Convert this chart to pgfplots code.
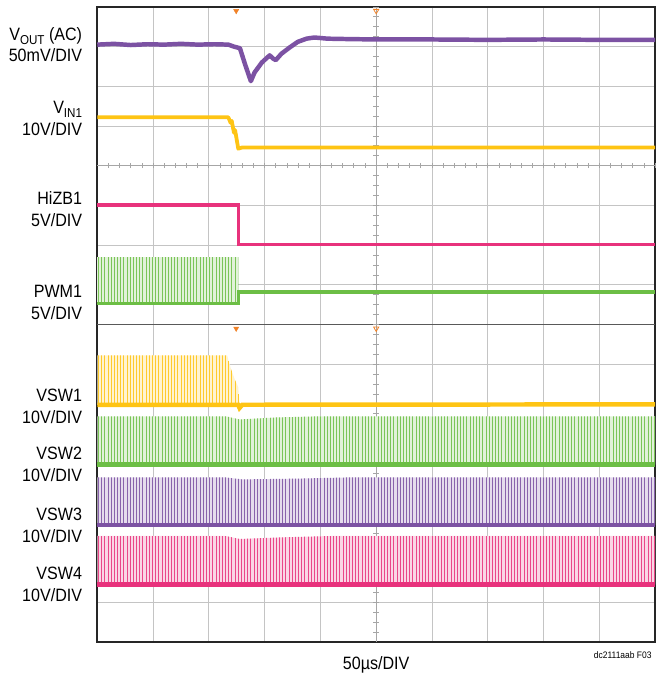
\documentclass[border=0pt]{standalone}
\usepackage{fontspec}
\setmainfont{Liberation Sans}[FakeStretch=0.9]
\usepackage{pgfplots}
\pgfplotsset{compat=1.18}
\usetikzlibrary{patterns.meta}

\definecolor{cPurple}{RGB}{124,82,163}
\definecolor{cYellow}{RGB}{254,196,20}
\definecolor{cPink}{RGB}{232,50,124}
\definecolor{cGreen}{RGB}{108,190,69}
\definecolor{cOrange}{RGB}{240,130,40}
\definecolor{cGrid}{RGB}{196,196,196}

\newcommand{\lbl}{\fontsize{18}{22}\selectfont}
\newcommand{\sub}[1]{\raisebox{-4pt}{\fontsize{13}{13}\selectfont #1}}

% switching bursts: envelope filled with thin vertical lines
\pgfplotsset{
  burst/.style={draw=none, preaction={fill=#1!20},
    pattern={Lines[angle=90, distance=3.2pt, line width=0.9pt]}, pattern color=#1!90},
}

\begin{document}
\begin{tikzpicture}
\begin{axis}[
    scale only axis, width=562pt, height=640pt,
    xmin=0, xmax=10, ymin=0, ymax=16,
    xtick={0,...,10}, ytick={0,...,16},
    xticklabels={}, yticklabels={},
    major tick length=0pt,
    grid=major, grid style={cGrid, line width=0.9pt},
    axis line style={line width=1.6pt, black!85},
    clip=false,
]
% page extent
\path (rel axis cs:-0.1744,-0.0469) rectangle (rel axis cs:1.0036,1.0109);

% graticule: panel separator and centre lines with small ticks
\draw[black!65, line width=1pt] (axis cs:0,8) -- (axis cs:10,8);
\draw[gray!70, line width=0.8pt] (axis cs:0,12) -- (axis cs:10,12);
\draw[gray!70, line width=0.8pt] (axis cs:5,0) -- (axis cs:5,16);
\pgfplotsinvokeforeach{0.2,0.4,...,9.9}{\draw[gray!70, line width=0.8pt] (axis cs:#1,11.94) -- (axis cs:#1,12.06);}
\pgfplotsinvokeforeach{0.25,0.5,...,15.9}{\draw[gray!70, line width=0.8pt] (axis cs:4.95,#1) -- (axis cs:5.05,#1);}

% ---- top panel ----
% VOUT (AC)
\addplot[cPurple, line width=4.5pt, line join=round] coordinates {
 (0,15.05)(0.3,15.07)(0.6,15.04)(0.9,15.06)(1.2,15.05)(1.5,15.07)(1.8,15.05)(2.1,15.06)
 (2.35,15.05)(2.45,15.0)(2.557,14.96)(2.65,14.55)(2.753,14.13)(2.82,14.35)(2.95,14.6)
 (3.09,14.78)(3.15,14.70)(3.20,14.66)(3.30,14.82)(3.45,14.98)(3.594,15.12)(3.75,15.2)
 (3.891,15.23)(4.128,15.2)(4.5,15.19)(5,15.18)(6,15.18)(7,15.17)(8,15.18)(9,15.17)(10,15.17)};
% VIN1
\addplot[cYellow, line width=3.8pt, line join=round] coordinates {
 (0,13.22)(2.349,13.22)(2.39,13.08)(2.41,13.13)(2.45,12.83)(2.47,12.9)(2.527,12.43)
 (2.6,12.46)(10,12.46)};
% HiZB1
\addplot[cPink, line width=3.2pt] coordinates {
 (0,11.01)(2.527,11.01)(2.527,10.025)(10,10.025)};
% PWM1
\addplot[burst=cGreen] coordinates {(0,8.525)(0,9.69)(2.527,9.69)(2.527,8.525)};
\addplot[cGreen, line width=3.5pt] coordinates {
 (0,8.525)(2.527,8.525)(2.527,8.825)(10,8.825)};

% ---- bottom panel ----
% VSW1
\addplot[burst=cYellow] coordinates {
 (0,5.975)(0,7.225)(2.327,7.225)(2.398,6.875)(2.469,6.6)(2.527,6.425)(2.55,5.975)};
\addplot[cYellow, line width=4.5pt] coordinates {
 (0,5.975)(2.527,5.975)(2.55,5.9)(2.6,5.98)(10,5.99)};
% VSW2
\addplot[burst=cGreen] coordinates {
 (0,4.475)(0,5.69)(2.3,5.69)(2.55,5.61)(3.2,5.66)(4.0,5.69)(10,5.69)(10,4.475)};
\addplot[cGreen, line width=4.5pt] coordinates {(0,4.475)(10,4.475)};
% VSW3
\addplot[burst=cPurple] coordinates {
 (0,2.95)(0,4.15)(2.3,4.15)(2.6,4.1)(3.6,4.12)(4.5,4.15)(10,4.15)(10,2.95)};
\addplot[cPurple, line width=4.5pt] coordinates {(0,2.95)(10,2.95)};
% VSW4
\addplot[burst=cPink] coordinates {
 (0,1.45)(0,2.675)(2.3,2.675)(2.55,2.6)(3.3,2.64)(4.2,2.675)(10,2.675)(10,1.45)};
\addplot[cPink, line width=4.5pt] coordinates {(0,1.45)(10,1.45)};

% trigger markers
\addplot[only marks, mark=triangle*, mark size=3pt, mark options={rotate=180, cOrange, fill=cOrange}]
 coordinates {(2.49,15.9)(2.49,7.9)};
\addplot[only marks, mark=triangle, mark size=3pt, mark options={rotate=180, cOrange, line width=0.8pt}]
 coordinates {(5,15.9)(5,7.9)};

% channel labels
\node[anchor=east, align=right, font=\lbl] at (axis cs:-0.21,15.05) {V\sub{OUT} (AC)\\50mV/DIV};
\node[anchor=east, align=right, font=\lbl] at (axis cs:-0.21,13.2) {V\sub{IN1}\\10V/DIV};
\node[anchor=east, align=right, font=\lbl] at (axis cs:-0.21,10.9) {HiZB1\\5V/DIV};
\node[anchor=east, align=right, font=\lbl] at (axis cs:-0.21,8.55) {PWM1\\5V/DIV};
\node[anchor=east, align=right, font=\lbl] at (axis cs:-0.21,5.93) {VSW1\\10V/DIV};
\node[anchor=east, align=right, font=\lbl] at (axis cs:-0.21,4.475) {VSW2\\10V/DIV};
\node[anchor=east, align=right, font=\lbl] at (axis cs:-0.21,2.95) {VSW3\\10V/DIV};
\node[anchor=east, align=right, font=\lbl] at (axis cs:-0.21,1.45) {VSW4\\10V/DIV};

\node[anchor=base, font=\lbl] at (axis cs:5,-0.7) {50µs/DIV};
\node[anchor=base east, font=\fontsize{9.5}{11}\selectfont] at (axis cs:10,-0.42) {dc2111aab F03};
\end{axis}
\end{tikzpicture}
\end{document}
